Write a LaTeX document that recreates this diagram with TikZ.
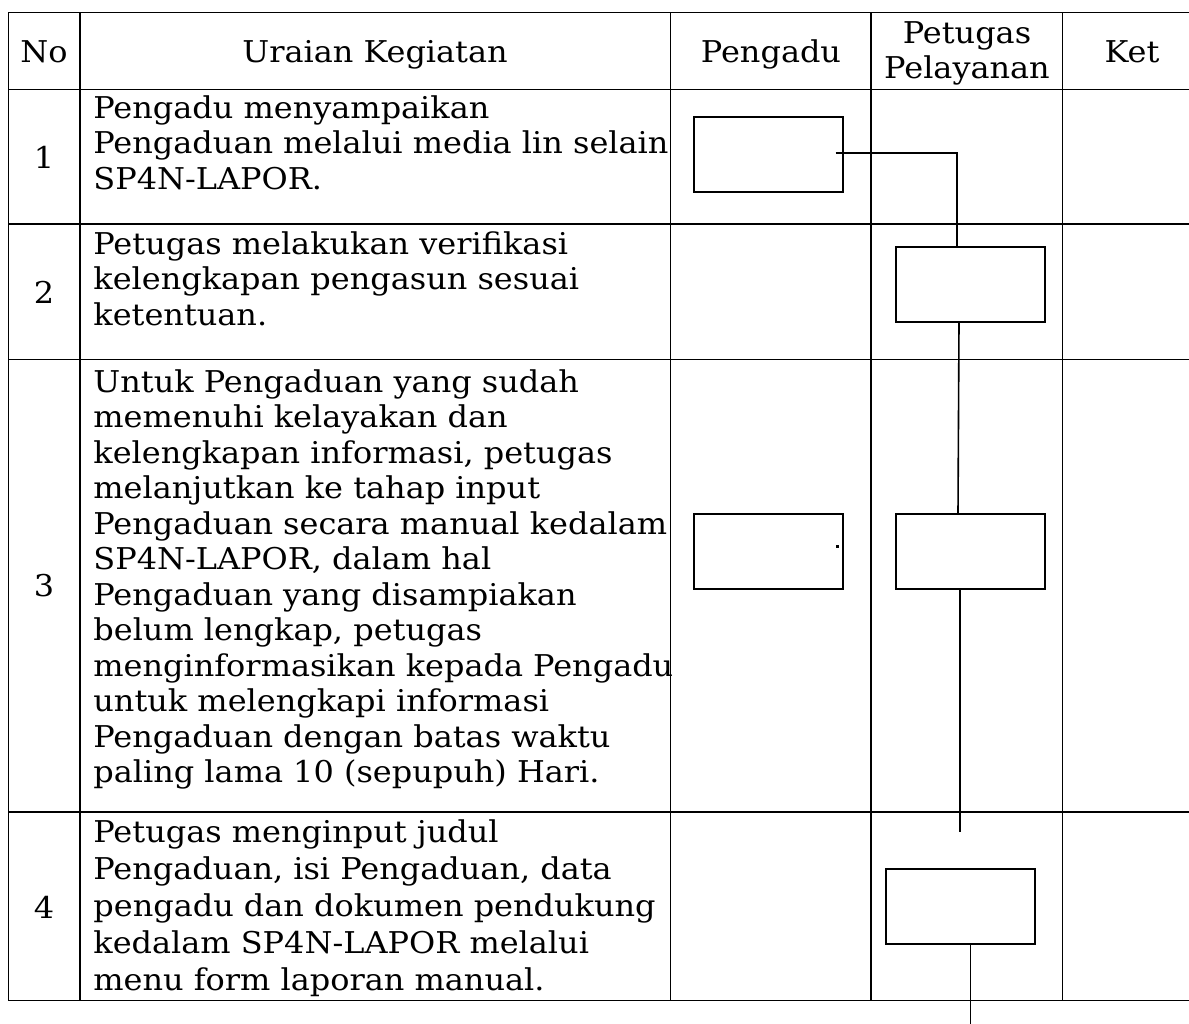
\documentclass[tikz,border=0pt]{standalone}
\usepackage{fontspec}
\setmainfont{DejaVu Serif}[FakeStretch=1.065]
\begin{document}
\begin{tikzpicture}[x=0.5pt,y=-0.5pt,
  grid/.style={line width=0.8pt},
  conn/.style={line width=0.8pt},
  flowbox/.style={draw,line width=0.9pt,anchor=north west,inner sep=0pt,minimum width=74.5pt,minimum height=37.5pt},
  desc/.style={anchor=north west,inner sep=0pt,align=left,font=\fontsize{15}{17.75}\selectfont},
  head/.style={inner sep=0pt,font=\fontsize{15}{17.75}\selectfont},
  num/.style={inner sep=0pt,anchor=center,font=\fontsize{15}{17.75}\selectfont}]
\useasboundingbox (0,0) rectangle (1189,1023);
\clip (0,0) rectangle (1189,1023);
% table grid
\draw[grid] (8.5,12.5) rectangle (1201,1000.5);
\foreach \xx in {80,670.5,871,1062.5} \draw[grid] (\xx,12.5) -- (\xx,1000.5);
\foreach \yy in {89.5,224,359.5,812} \draw[grid] (8.5,\yy) -- (1201,\yy);
% header
\node[head,anchor=base] (hno) at (44,62) {No};
\node[head,anchor=base] (hur) at (375,62) {Uraian Kegiatan};
\node[head,anchor=base] (hpg) at (771,62) {Pengadu};
\node[head,anchor=north,align=center] (hpt) at (967,18) {\strut Petugas\\Pelayanan};
\node[head,anchor=base] (hket) at (1132,62) {Ket};
% numbers
\node[num] (n1) at (44,157) {1};
\node[num] (n2) at (44,292) {2};
\node[num] (n3) at (44,586) {3};
\node[num] (n4) at (44,907) {4};
% descriptions
\node[desc] (d1) at (93,93) {\strut Pengadu menyampaikan\\Pengaduan melalui media lin selain\\SP4N-LAPOR.};
\node[desc] (d2) at (93,229) {\strut Petugas melakukan verifikasi\\kelengkapan pengasun sesuai\\ketentuan.};
\node[desc] (d3) at (93,367) {\strut Untuk Pengaduan yang sudah\\memenuhi kelayakan dan\\kelengkapan informasi, petugas\\melanjutkan ke tahap input\\Pengaduan secara manual kedalam\\SP4N-LAPOR, dalam hal\\Pengaduan yang disampiakan\\belum lengkap, petugas\\menginformasikan kepada Pengadu\\untuk melengkapi informasi\\Pengaduan dengan batas waktu\\paling lama 10 (sepupuh) Hari.};
\node[desc,font=\fontsize{15}{18.5}\selectfont] (d4) at (93,816) {\strut Petugas menginput judul\\Pengaduan, isi Pengaduan, data\\pengadu dan dokumen pendukung\\kedalam SP4N-LAPOR melalui\\menu form laporan manual.};
% flow boxes
\node[flowbox] (b1) at (693,116) {};
\node[flowbox] (b2) at (895,246) {};
\node[flowbox] (b3a) at (693,513) {};
\node[flowbox] (b3b) at (895,513) {};
\node[flowbox] (b4) at (885,868) {};
% connectors
\coordinate (c1) at (835.5,153);
\coordinate (e1) at (960,832);
\coordinate (e2) at (970.4,1030);
\draw[conn] (c1) -| ([xshift=31pt]b2.north west);
\draw[conn] ([xshift=32pt]b2.south west) -- ([xshift=31.5pt]b3b.north west);
\draw[conn] ([xshift=32.5pt]b3b.south west) -- (e1);
\draw[conn] ([xshift=42.7pt]b4.south west) -- (e2);
\fill (836,545) rectangle (838.5,547.5);
\end{tikzpicture}
\end{document}
